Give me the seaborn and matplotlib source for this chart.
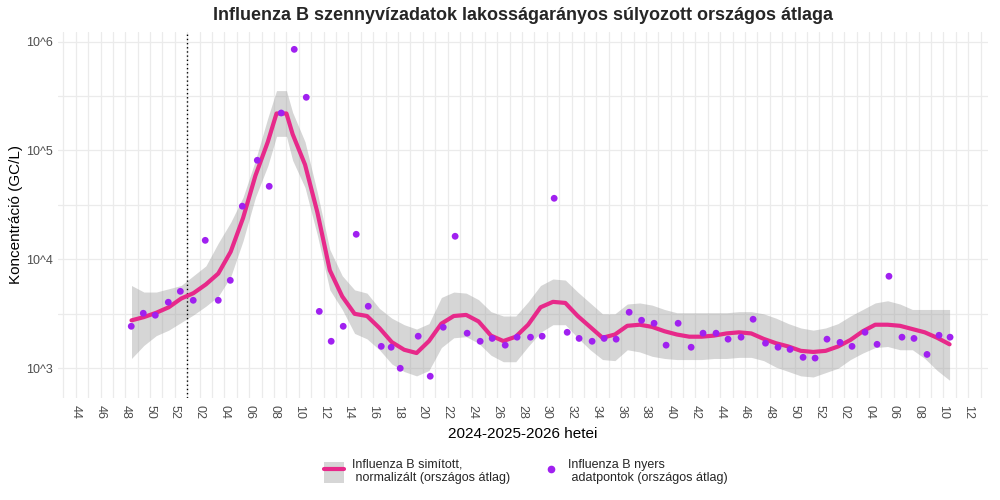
import numpy as np
import matplotlib
matplotlib.use("Agg")
import matplotlib.pyplot as plt
from matplotlib.lines import Line2D
from matplotlib.patches import Patch
from matplotlib.ticker import FixedLocator, NullFormatter
import seaborn as sns

# het pozicio: 0 = 2024. 44. het, 9 = 2025. 01. het, 61 = 2026. 01. het
het_cimkek = ["44", "46", "48", "50", "52", "02", "04", "06", "08", "10", "12", "14",
              "16", "18", "20", "22", "24", "26", "28", "30", "32", "34", "36", "38",
              "40", "42", "44", "46", "48", "50", "52", "02", "04", "06", "08", "10", "12"]
uj_ev_het = 9

# nyers adatpontok (GC/L)
pont_het = [4.48, 5.45, 6.42, 7.47, 8.44, 9.48, 10.45, 11.5, 12.47, 13.44,
            14.65, 15.61, 16.58, 17.63, 18.6, 19.65, 20.61, 21.58, 22.63, 23.6,
            24.65, 25.45, 26.18, 27.63, 28.6, 29.65, 30.61, 31.58, 32.63, 33.6,
            34.65, 35.61, 36.69, 37.63, 38.6, 39.65, 40.61, 41.66, 42.63, 43.6,
            44.65, 45.65, 46.66, 47.63, 48.6, 49.65, 50.61, 51.66, 52.63, 53.68,
            54.65, 55.65, 56.66, 57.63, 58.68, 59.65, 60.61, 61.66, 62.63, 63.68,
            64.65, 65.61, 66.66, 67.63, 68.68, 69.65, 70.54]
pont_ertek = [2430, 3200, 3070, 4040, 5090, 4210, 14960, 4210, 6420, 30800,
              81300, 46900, 221000, 849000, 308000, 3330, 1770, 2430, 17000, 3710,
              1590, 1560, 1000, 1970, 845, 2380, 16300, 2100, 1770, 1880,
              1630, 1930, 1930, 1970, 36400, 2140, 1880, 1770, 1880, 1850,
              3270, 2760, 2590, 1630, 2590, 1560, 2100, 2100, 1850, 1930,
              2820, 1700, 1560, 1490, 1260, 1240, 1850, 1730, 1590, 2140,
              1660, 7000, 1930, 1880, 1340, 2010, 1930]

# simitott gorbe es konfidenciasav (log10 GC/L), leolvasva
gorbe_het = [4.5, 5.5, 6.5, 7.5, 8.5, 9.5, 10.5, 11.5, 12.5, 13.5,
             14.5, 15.5, 16.2, 16.5, 17.0, 17.5, 18.5, 19.5, 20.5, 21.5, 22.5,
             23.5, 24.5, 25.5, 26.5, 27.5, 28.5, 29.5, 30.5, 31.5, 32.5,
             33.5, 34.5, 35.5, 36.5, 37.5, 38.5, 39.5, 40.5, 41.5, 42.5,
             43.5, 44.5, 45.5, 46.5, 47.5, 48.5, 49.5, 50.5, 51.5, 52.5,
             53.5, 54.5, 55.5, 56.5, 57.5, 58.5, 59.5, 60.5, 61.5, 62.5,
             63.5, 64.5, 65.5, 66.5, 67.5, 68.5, 69.5, 70.5]
gorbe_lg = [3.44, 3.47, 3.51, 3.56, 3.64, 3.69, 3.77, 3.87, 4.07, 4.38,
            4.77, 5.08, 5.34, 5.34, 5.34, 5.15, 4.87, 4.43, 3.90, 3.66, 3.50, 3.48,
            3.37, 3.24, 3.17, 3.14, 3.25, 3.41, 3.48, 3.49, 3.43, 3.30,
            3.25, 3.29, 3.40, 3.56, 3.61, 3.60, 3.48, 3.38, 3.28, 3.31,
            3.39, 3.40, 3.38, 3.34, 3.31, 3.29, 3.29, 3.30, 3.32, 3.33,
            3.32, 3.27, 3.23, 3.20, 3.16, 3.15, 3.16, 3.20, 3.26, 3.34,
            3.40, 3.40, 3.39, 3.36, 3.33, 3.28, 3.22]
felso_lg = [3.76, 3.70, 3.70, 3.73, 3.76, 3.85, 3.94, 4.15, 4.34, 4.57,
            4.91, 5.30, 5.55, 5.55, 5.55, 5.35, 5.08, 4.61, 4.09, 3.85, 3.72, 3.69,
            3.55, 3.46, 3.40, 3.36, 3.41, 3.65, 3.70, 3.69, 3.63, 3.52,
            3.48, 3.48, 3.61, 3.76, 3.82, 3.81, 3.70, 3.60, 3.50, 3.50,
            3.59, 3.60, 3.58, 3.54, 3.51, 3.51, 3.51, 3.51, 3.51, 3.52,
            3.52, 3.50, 3.46, 3.41, 3.37, 3.35, 3.37, 3.41, 3.48, 3.54,
            3.60, 3.62, 3.59, 3.54, 3.54, 3.54, 3.54]
also_lg = [3.09, 3.21, 3.30, 3.35, 3.42, 3.49, 3.57, 3.66, 3.84, 4.17,
           4.57, 4.86, 5.13, 5.13, 5.13, 4.91, 4.66, 4.22, 3.72, 3.54, 3.32, 3.27,
           3.17, 3.04, 2.97, 2.93, 2.98, 3.19, 3.28, 3.29, 3.23, 3.12,
           3.06, 3.06, 3.20, 3.33, 3.40, 3.40, 3.28, 3.17, 3.08, 3.07,
           3.17, 3.15, 3.11, 3.09, 3.08, 3.08, 3.08, 3.09, 3.09, 3.10,
           3.10, 3.07, 3.01, 2.97, 2.93, 2.92, 2.96, 3.00, 3.08, 3.14,
           3.19, 3.20, 3.17, 3.17, 3.09, 2.98, 2.89]

y_cimkek = ["10^3", "10^4", "10^5", "10^6"]

vonal_szin = "#E7298A"
pont_szin = "#A020F0"
racs_szin = "#EBEBEB"
szoveg_szin = "#4D4D4D"

sns.set_theme(style="white")
plt.rcParams['font.family'] = ['Liberation Sans', 'DejaVu Sans']

fig = plt.figure(figsize=(10, 5), dpi=100)
ax = fig.add_axes([0.058, 0.204, 0.930, 0.7326])

ax.set_yscale('log')
ax.fill_between(gorbe_het, np.power(10.0, also_lg), np.power(10.0, felso_lg),
                color="#999999", alpha=0.4, linewidth=0, zorder=2)
sns.lineplot(x=gorbe_het, y=np.power(10.0, gorbe_lg), color=vonal_szin,
             linewidth=3, ax=ax, zorder=3)
sns.scatterplot(x=pont_het, y=pont_ertek, color=pont_szin, s=24,
                edgecolor='none', ax=ax, zorder=4)
ax.axvline(uj_ev_het, color="black", linestyle=(0, (1, 2)), linewidth=1, zorder=2.5)

ax.set_xlim(-1.43, 73.6)
ax.set_ylim(10 ** 2.727, 10 ** 6.091)

tick_pos = list(range(0, 2 * len(het_cimkek), 2))
ax.xaxis.set_major_locator(FixedLocator(tick_pos))
ax.set_xticklabels(het_cimkek)
ax.xaxis.set_minor_locator(FixedLocator([p + 1 for p in [-2] + tick_pos]))
ax.yaxis.set_major_locator(FixedLocator([1e3, 1e4, 1e5, 1e6]))
ax.set_yticklabels(y_cimkek)
ax.yaxis.set_minor_locator(FixedLocator([10 ** 3.5, 10 ** 4.5, 10 ** 5.5]))
ax.yaxis.set_minor_formatter(NullFormatter())

ax.grid(True, which='both', color=racs_szin, linewidth=0.9)
ax.set_axisbelow(True)
for s in ax.spines.values():
    s.set_visible(False)
ax.tick_params(which='both', length=0, colors=szoveg_szin, labelsize=9)
ax.tick_params(axis='x', labelrotation=-90, pad=5)
ax.tick_params(axis='y', pad=4)

ax.set_xlabel("2024-2025-2026 hetei", fontsize=11, color="black", labelpad=6)
ax.set_ylabel("Koncentráció (GC/L)", fontsize=11, color="black", labelpad=2)
fig.text(0.523, 0.968, "Influenza B szennyvízadatok lakosságarányos súlyozott országos átlaga",
         ha='center', va='center', fontsize=13, fontweight='bold')

handles = [(Patch(facecolor="#D6D6D6", edgecolor='none'),
            Line2D([], [], color=vonal_szin, linewidth=3)),
           Line2D([], [], marker='o', color=pont_szin, linestyle='none', markersize=4.5)]
labels = ["Influenza B simított,\n normalizált (országos átlag)",
          "Influenza B nyers\n adatpontok (országos átlag)"]
fig.legend(handles, labels, loc='center', bbox_to_anchor=(0.526, 0.057), ncol=2,
           frameon=False, fontsize=9, handlelength=1.6, handleheight=2.2,
           columnspacing=2.5, handletextpad=0.6)

fig.savefig("out.png", dpi=100)
